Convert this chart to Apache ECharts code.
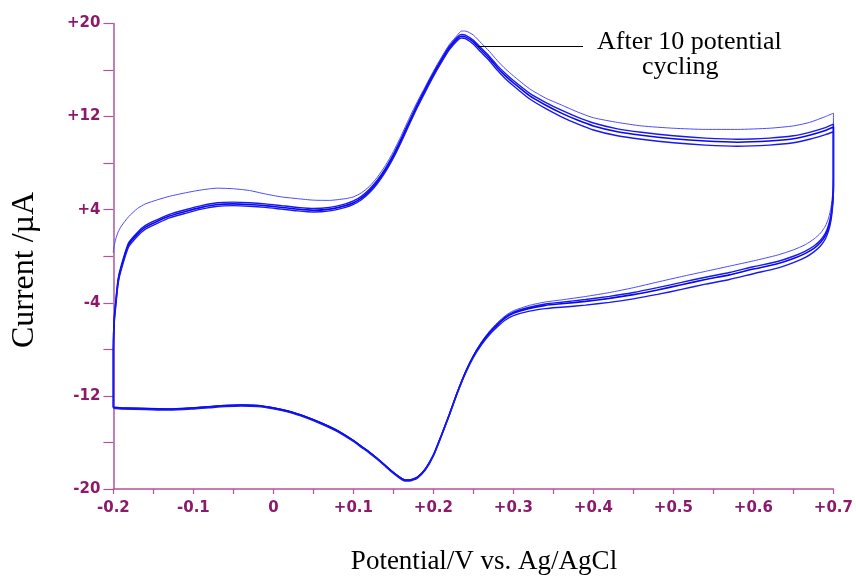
<!DOCTYPE html>
<html>
<head>
<meta charset="utf-8">
<script src="https://cdn.jsdelivr.net/npm/echarts@6/dist/echarts.min.js"></script>
<style>html,body{margin:0;padding:0;background:#fff}#c{width:856px;height:577px}</style>
</head>
<body>
<div id="c"></div>
<script>
// Forward (anodic) scan potentials, V
var fwdE = [-0.2, -0.2, -0.199, -0.197, -0.194, -0.19, -0.181, -0.17, -0.16, -0.145, -0.13, -0.11, -0.09, -0.07, -0.05, -0.03, -0.01, 0.01, 0.03, 0.05, 0.07, 0.09, 0.1, 0.11, 0.12, 0.13, 0.14, 0.15, 0.16, 0.17, 0.18, 0.19, 0.2, 0.21, 0.22, 0.23, 0.235, 0.24, 0.25, 0.26, 0.27, 0.28, 0.29, 0.3, 0.32, 0.34, 0.36, 0.38, 0.4, 0.43, 0.46, 0.5, 0.54, 0.58, 0.62, 0.65, 0.67, 0.69, 0.7];
// Reverse (cathodic) scan potentials, V
var revE = [0.7, 0.699, 0.697, 0.694, 0.69, 0.684, 0.676, 0.665, 0.65, 0.63, 0.6, 0.57, 0.54, 0.51, 0.48, 0.45, 0.42, 0.39, 0.36, 0.34, 0.32, 0.3, 0.29, 0.28, 0.27, 0.26, 0.25, 0.24, 0.23, 0.22, 0.21, 0.2, 0.19, 0.18, 0.17, 0.165, 0.16, 0.15, 0.14, 0.13, 0.12, 0.11, 0.1, 0.08, 0.06, 0.04, 0.02, 0.0, -0.02, -0.04, -0.06, -0.08, -0.1, -0.13, -0.16, -0.19, -0.2];

// Currents, µA
var cycle1Fwd = [0.3, 0.5, 0.9, 1.5, 2.1, 2.6, 3.4, 4.1, 4.5, 4.85, 5.15, 5.45, 5.7, 5.85, 5.8, 5.65, 5.35, 5.1, 4.95, 4.82, 4.8, 4.95, 5.1, 5.45, 6.0, 6.8, 7.8, 9.0, 10.4, 11.9, 13.3, 14.6, 15.9, 17.1, 18.2, 19.0, 19.35, 19.35, 19.0, 18.3, 17.6, 16.8, 16.1, 15.5, 14.4, 13.6, 13.0, 12.4, 11.9, 11.5, 11.2, 11.0, 10.9, 10.9, 11.0, 11.2, 11.5, 12.0, 12.3];
var cycle1Rev = [7.0, 5.4, 4.2, 3.3, 2.6, 2.0, 1.5, 1.0, 0.55, 0.1, -0.4, -0.85, -1.3, -1.75, -2.22, -2.7, -3.12, -3.46, -3.75, -3.93, -4.22, -4.68, -5.1, -5.7, -6.45, -7.35, -8.5, -9.9, -11.6, -13.5, -15.3, -17.0, -18.2, -18.95, -19.2, -19.2, -19.05, -18.55, -17.95, -17.35, -16.8, -16.3, -15.8, -14.95, -14.3, -13.75, -13.3, -13.0, -12.8, -12.75, -12.8, -12.9, -13.0, -13.1, -13.05, -13.0, -12.95];

var cycle2Fwd = [-13.0, -7.8, -5.3, -3.8, -1.9, -0.75, 1.15, 2.05, 2.65, 3.15, 3.6, 4.0, 4.35, 4.6, 4.65, 4.6, 4.5, 4.35, 4.2, 4.1, 4.2, 4.5, 4.75, 5.15, 5.75, 6.55, 7.55, 8.75, 10.15, 11.65, 13.1, 14.45, 15.75, 16.95, 18.05, 18.85, 19.05, 19.0, 18.55, 17.87, 17.17, 16.38, 15.7, 15.1, 14.02, 13.23, 12.55, 11.95, 11.45, 10.95, 10.65, 10.35, 10.15, 10.05, 10.15, 10.35, 10.65, 11.05, 11.35];
var cycle2Rev = [6.2, 4.8, 3.6, 2.7, 2.0, 1.4, 0.9, 0.45, 0.0, -0.45, -0.9, -1.4, -1.8, -2.25, -2.7, -3.12, -3.45, -3.72, -3.95, -4.1, -4.38, -4.8, -5.2, -5.82, -6.53, -7.45, -8.55, -9.96, -11.66, -13.57, -15.38, -17.08, -18.28, -18.98, -19.23, -19.23, -19.08, -18.58, -17.98, -17.38, -16.83, -16.33, -15.83, -14.98, -14.33, -13.78, -13.33, -13.03, -12.83, -12.78, -12.83, -12.93, -13.03, -13.13, -13.08, -13.03, -12.98];

var cycle5Fwd = [-13.0, -8.0, -5.5, -4.0, -2.1, -0.9, 1.0, 1.9, 2.5, 3.0, 3.45, 3.85, 4.2, 4.45, 4.5, 4.45, 4.35, 4.2, 4.05, 3.95, 4.05, 4.35, 4.6, 5.0, 5.6, 6.4, 7.4, 8.6, 10.0, 11.5, 12.95, 14.3, 15.6, 16.8, 17.9, 18.7, 18.9, 18.85, 18.4, 17.7, 17.0, 16.2, 15.5, 14.9, 13.8, 13.0, 12.3, 11.7, 11.2, 10.7, 10.4, 10.1, 9.9, 9.8, 9.9, 10.1, 10.4, 10.8, 11.1];
var cycle5Rev = [6.0, 4.6, 3.4, 2.5, 1.8, 1.2, 0.7, 0.25, -0.2, -0.65, -1.1, -1.6, -2.0, -2.45, -2.9, -3.3, -3.62, -3.88, -4.08, -4.22, -4.48, -4.9, -5.3, -5.9, -6.6, -7.5, -8.6, -10.0, -11.7, -13.6, -15.4, -17.1, -18.3, -19.0, -19.25, -19.25, -19.1, -18.6, -18.0, -17.4, -16.85, -16.35, -15.85, -15.0, -14.35, -13.8, -13.35, -13.05, -12.85, -12.8, -12.85, -12.95, -13.05, -13.15, -13.1, -13.05, -13.0];

var cycle10Fwd = [-13.0, -8.3, -5.8, -4.25, -2.3, -1.1, 0.8, 1.72, 2.33, 2.83, 3.29, 3.69, 4.05, 4.3, 4.35, 4.3, 4.2, 4.05, 3.9, 3.8, 3.9, 4.2, 4.45, 4.85, 5.45, 6.25, 7.25, 8.45, 9.85, 11.35, 12.8, 14.15, 15.45, 16.65, 17.75, 18.55, 18.75, 18.7, 18.22, 17.5, 16.8, 15.98, 15.26, 14.65, 13.53, 12.7, 11.98, 11.37, 10.85, 10.35, 10.05, 9.75, 9.55, 9.45, 9.55, 9.75, 10.05, 10.45, 10.7];
var cycle10Rev = [5.7, 4.3, 3.1, 2.2, 1.5, 0.9, 0.4, -0.1, -0.55, -1.02, -1.5, -2.0, -2.4, -2.85, -3.28, -3.66, -3.96, -4.2, -4.38, -4.5, -4.72, -5.1, -5.48, -6.06, -6.74, -7.62, -8.7, -10.08, -11.76, -13.65, -15.45, -17.15, -18.36, -19.06, -19.32, -19.32, -19.17, -18.67, -18.07, -17.47, -16.92, -16.42, -15.92, -15.07, -14.42, -13.87, -13.42, -13.12, -12.92, -12.87, -12.92, -13.02, -13.12, -13.22, -13.17, -13.12, -13.07];

var xTickLabels = {"-0.2": "-0.2", "-0.1": "-0.1", "0": "0", "0.1": "+0.1", "0.2": "+0.2", "0.3": "+0.3", "0.4": "+0.4", "0.5": "+0.5", "0.6": "+0.6", "0.7": "+0.7"};
var yTickLabels = {"-20": "-20", "-12": "-12", "-4": "-4", "4": "+4", "12": "+12", "20": "+20"};
var annotationText = ["After 10 potential", "cycling"];
var xTitle = "Potential/V vs. Ag/AgCl";
var yTitle = "Current /\u00b5A";

function loop(fI, rI) {
  var d = [];
  for (var i = 0; i < fwdE.length; i++) d.push([fwdE[i], fI[i]]);
  for (var j = 0; j < revE.length; j++) d.push([revE[j], rI[j]]);
  return d;
}

var axisCol = '#b4539a';
var labCol = '#8c1a6a';
var cycles = [
  {name: 'Cycle 1', f: cycle1Fwd, r: cycle1Rev, c: '#4a4aff', w: 1},
  {name: 'Cycle 2', f: cycle2Fwd, r: cycle2Rev, c: '#1818f2', w: 1.4},
  {name: 'Cycle 5', f: cycle5Fwd, r: cycle5Rev, c: '#0a0ae6', w: 1.6},
  {name: 'Cycle 10', f: cycle10Fwd, r: cycle10Rev, c: '#1818f2', w: 1.4}
];

var series = cycles.map(function (cy) {
  return {
    name: cy.name, type: 'line', data: loop(cy.f, cy.r), showSymbol: false, smooth: 0.2,
    lineStyle: {color: cy.c, width: cy.w}, silent: true, animation: false
  };
});
series[0].markLine = {
  silent: true, symbol: ['none', 'none'], animation: false,
  lineStyle: {color: '#000', width: 1, type: 'solid'},
  label: {show: false},
  data: [[{coord: [0.256, 18.05]}, {coord: [0.387, 18.05]}]]
};

var chart = echarts.init(document.getElementById('c'), null, {renderer: 'canvas'});
chart.setOption({
  animation: false,
  grid: {left: 113.4, right: 21.2, top: 23.5, bottom: 88, containLabel: false},
  xAxis: {
    type: 'value', min: -0.2, max: 0.7, interval: 0.05,
    axisLine: {show: true, onZero: false, lineStyle: {color: axisCol, width: 1.5}},
    axisTick: {show: true, inside: false, length: 5, lineStyle: {color: axisCol, width: 1.2}},
    splitLine: {show: false},
    axisLabel: {
      margin: 12, color: labCol, fontFamily: 'DejaVu Sans', fontWeight: 'bold', fontSize: 15,
      formatter: function (v) { var k = String(Math.round(v * 100) / 100); return xTickLabels[k] || ''; }
    }
  },
  yAxis: {
    type: 'value', min: -20, max: 20, interval: 4,
    axisLine: {show: true, onZero: false, lineStyle: {color: axisCol, width: 1.5}},
    axisTick: {show: true, inside: false, length: 10, lineStyle: {color: axisCol, width: 1.2}},
    splitLine: {show: false},
    axisLabel: {
      margin: 13, color: labCol, fontFamily: 'DejaVu Sans', fontWeight: 'bold', fontSize: 15,
      formatter: function (v) { return yTickLabels[String(Math.round(v))] || ''; }
    }
  },
  graphic: [
    {type: 'text', left: 597, top: 29, style: {text: annotationText[0], font: '26px "Liberation Serif"', fill: '#000'}},
    {type: 'text', left: 642, top: 54, style: {text: annotationText[1], font: '26px "Liberation Serif"', fill: '#000'}},
    {type: 'text', x: 484, y: 562, style: {text: xTitle, font: '27px "Liberation Serif"', fill: '#000', textAlign: 'center', textVerticalAlign: 'middle'}},
    {type: 'text', x: 25, y: 270, rotation: Math.PI / 2, style: {text: yTitle, font: '32px "Liberation Serif"', fill: '#000', textAlign: 'center', textVerticalAlign: 'middle'}}
  ],
  series: series
});
</script>
</body>
</html>
